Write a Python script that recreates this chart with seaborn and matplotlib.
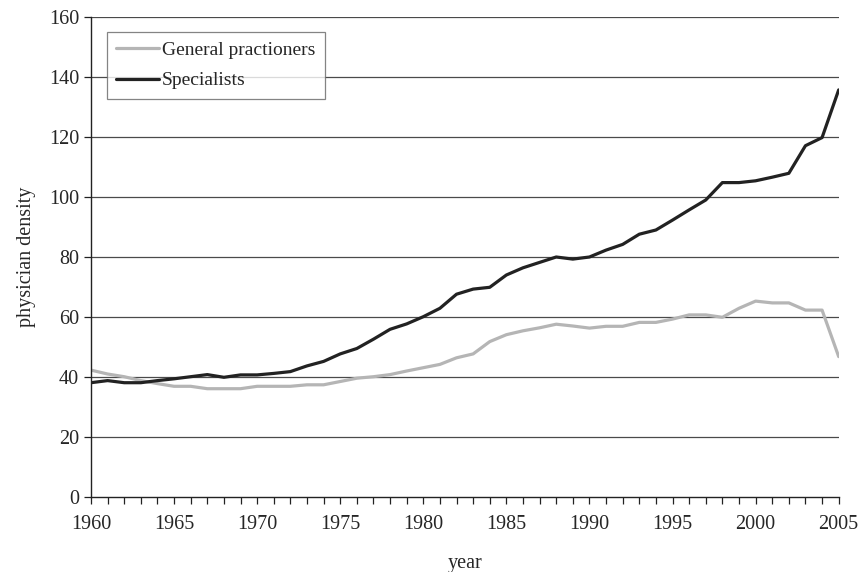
import pandas as pd
import matplotlib
matplotlib.use("Agg")
import matplotlib.pyplot as plt
import seaborn as sns

# Dados
anos = list(range(1960, 2006))
general = [42.3, 41.0, 40.1, 38.8, 37.8, 36.9, 36.9, 36.1, 36.1, 36.1,
           36.9, 36.9, 36.9, 37.4, 37.4, 38.5, 39.6, 40.1, 40.8, 42.0,
           43.1, 44.2, 46.4, 47.7, 51.8, 54.1, 55.4, 56.4, 57.6, 57.0,
           56.3, 56.9, 56.9, 58.2, 58.2, 59.3, 60.7, 60.7, 59.9, 62.9,
           65.3, 64.7, 64.7, 62.3, 62.3, 46.8]
specialists = [38.1, 38.8, 38.1, 38.1, 38.8, 39.4, 40.1, 40.8, 39.9, 40.7,
               40.7, 41.2, 41.8, 43.7, 45.2, 47.7, 49.5, 52.6, 55.9, 57.7,
               60.1, 62.9, 67.6, 69.3, 69.9, 74.0, 76.4, 78.2, 80.0, 79.3,
               80.0, 82.3, 84.2, 87.6, 89.0, 92.3, 95.7, 99.0, 104.8, 104.8,
               105.4, 106.6, 107.9, 117.1, 119.8, 135.7]
series_names = ["General practioners", "Specialists"]
x_ticks = [1960, 1965, 1970, 1975, 1980, 1985, 1990, 1995, 2000, 2005]
y_ticks = [0, 20, 40, 60, 80, 100, 120, 140, 160]

df = pd.DataFrame({
    "year": anos * 2,
    "density": general + specialists,
    "serie": [series_names[0]] * len(anos) + [series_names[1]] * len(anos),
})

sns.set_theme(style="white")
plt.rcParams["font.family"] = ["Liberation Serif", "DejaVu Serif"]

fig, ax = plt.subplots(figsize=(8.64, 5.72), dpi=100)
fig.subplots_adjust(left=0.1053, right=0.9707, bottom=0.1311, top=0.9703)

# Grade horizontal
for y in y_ticks[1:]:
    ax.axhline(y, color="#4a4a4a", lw=0.9, zorder=0)

sns.lineplot(data=df, x="year", y="density", hue="serie",
             palette={series_names[0]: "#b5b5b5", series_names[1]: "#222222"},
             linewidth=2.3, ax=ax)

ax.set_xlim(1960, 2005)
ax.set_ylim(0, 160)
ax.set_xticks(x_ticks)
ax.set_xticks(anos, minor=True)
ax.set_yticks(y_ticks)
ax.tick_params(axis="both", which="both", direction="out", length=5,
               width=0.9, color="#222222", labelsize=14.5, bottom=True, left=True)
ax.tick_params(axis="x", pad=8)

for lado in ["top", "right"]:
    ax.spines[lado].set_visible(False)
for lado in ["left", "bottom"]:
    ax.spines[lado].set_color("#222222")
    ax.spines[lado].set_linewidth(1.0)

ax.set_xlabel("year", fontsize=14.5, labelpad=14)
ax.set_ylabel("physician density", fontsize=14.5, labelpad=9)

leg = ax.legend(loc="upper left", bbox_to_anchor=(0.021, 0.969),
                borderaxespad=0, fontsize=14, frameon=True, fancybox=False,
                handlelength=2.2, handletextpad=0.15, borderpad=0.5,
                labelspacing=0.65)
leg.get_frame().set_edgecolor("#666666")
leg.get_frame().set_linewidth(0.9)
for h in leg.get_lines():
    h.set_linewidth(2.3)

fig.savefig("out.png", dpi=100)
